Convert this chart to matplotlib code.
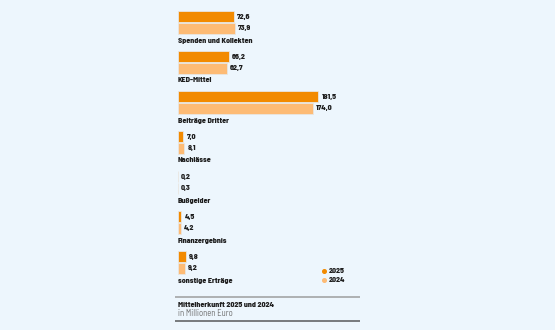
import matplotlib
matplotlib.use("Agg")
import matplotlib.pyplot as plt

categories = ["Spenden und Kollekten", "KED-Mittel", "Beiträge Dritter", "Nachlässe",
              "Bußgelder", "Finanzergebnis", "sonstige Erträge"]
values_2025 = [72.6, 66.2, 181.5, 7.0, 0.2, 4.5, 9.8]
values_2024 = [73.9, 62.7, 174.0, 8.1, 0.3, 4.2, 9.2]
series_labels = ["2025", "2024"]
title = "Mittelherkunft 2025 und 2024"
subtitle = "in Millionen Euro"

plt.rcParams["font.family"] = ["Barlow Semi Condensed", "DejaVu Sans"]

BG = "#edf6fd"
C25 = "#f28a00"
C24 = "#fdbb75"
TXT = "#1e1e1e"

W, H = 555, 330
fig = plt.figure(figsize=(W / 100, H / 100), dpi=100, facecolor=BG)
ax = fig.add_axes([0, 0, 1, 1], facecolor=BG)
scale = 0.7736  # px per unit
x0 = 178
ax.set_xlim(-x0 / scale, (W - x0) / scale)
ax.set_ylim(H, 0)
ax.axis("off")

def fmt(v):
    return f"{v:.1f}".replace(".", ",")

FS = 5.7
WT = 800
bh = 11.3
for i, (cat, v25, v24) in enumerate(zip(categories, values_2025, values_2024)):
    top = 11 + 40 * i
    y25 = top + bh / 2
    y24 = top + bh + 0.5 + bh / 2
    ax.barh(y25, v25, height=bh, color=C25, edgecolor="#e9e6e1", linewidth=0.6)
    ax.barh(y24, v24, height=bh, color=C24, edgecolor="#e9e6e1", linewidth=0.6)
    ax.text(v25 + 3 / scale, y25, fmt(v25), va="center", ha="left", fontsize=FS,
            fontweight=WT, color=TXT)
    ax.text(v24 + 3 / scale, y24, fmt(v24), va="center", ha="left", fontsize=FS,
            fontweight=WT, color=TXT)
    ax.text(0, top + 29.5, cat, va="center", ha="left", fontsize=FS,
            fontweight=WT, color=TXT)

# legend
for j, (lab, c) in enumerate(zip(series_labels, [C25, C24])):
    yy = 271 + 9 * j
    ax.plot([(324 - x0) / scale], [yy], marker="o", markersize=2.6, color=c, linestyle="none")
    ax.text((329 - x0) / scale, yy, lab, va="center", ha="left", fontsize=FS,
            fontweight=WT, color=TXT)

# footer lines & title
ax.plot([(175 - x0) / scale, (360 - x0) / scale], [296.5, 296.5], color="#a9abad", lw=1.3,
        solid_capstyle="butt")
ax.plot([(175 - x0) / scale, (360 - x0) / scale], [321, 321], color="#6e7073", lw=1.3,
        solid_capstyle="butt")
ax.text(0, 305, title, va="center", ha="left", fontsize=FS, fontweight=WT, color=TXT)
ax.text(0, 313.5, subtitle, va="center", ha="left", fontsize=6.2, color="#707070")

fig.savefig("out.png", dpi=100, facecolor=BG)
